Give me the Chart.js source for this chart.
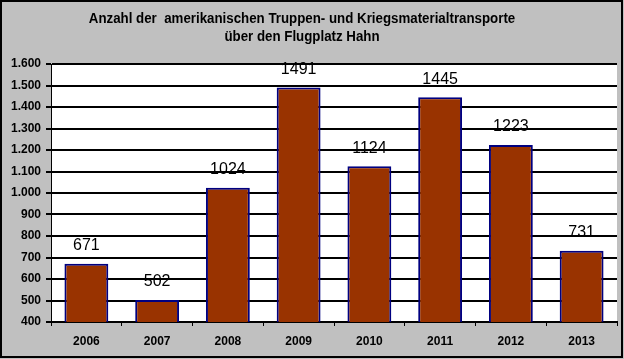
<!DOCTYPE html>
<html>
<head>
<meta charset="utf-8">
<script src="https://cdn.jsdelivr.net/npm/chart.js@4"></script>
<style>
  html, body { margin: 0; padding: 0; background: #c0c0c0; }
  #wrap { width: 624px; height: 359px; }
</style>
</head>
<body>
<div id="wrap"><canvas id="myChart" width="624" height="359"></canvas></div>
<script>
'use strict'

// data
const years = ['2006', '2007', '2008', '2009', '2010', '2011', '2012', '2013'];
const transports = [671, 502, 1024, 1491, 1124, 1445, 1223, 731];
const titleLines = ['Anzahl der  amerikanischen Truppen- und Kriegsmaterialtransporte', 'über den Flugplatz Hahn'];

// grey frame + title
const framePlugin = {
  id: 'frame',
  beforeDraw(chart) {
    const c = chart.ctx;
    c.save();
    c.fillStyle = '#c0c0c0';
    c.fillRect(0, 0, chart.width, chart.height);
    const a = chart.chartArea;
    c.fillStyle = '#ffffff';
    c.fillRect(a.left, a.top, a.right - a.left, a.bottom - a.top);
    c.restore();
  },
  afterDraw(chart) {
    const c = chart.ctx;
    c.save();
    c.strokeStyle = '#000';
    c.lineWidth = 2;
    c.strokeRect(1, 1, chart.width - 3, chart.height - 3);
    c.fillStyle = '#000';
    c.font = 'bold 14px "Liberation Sans", Arial, sans-serif';
    c.textAlign = 'center';
    c.textBaseline = 'middle';
    // slightly narrow title like the original
    c.translate(302, 0);
    c.scale(0.95, 1);
    c.fillText(titleLines[0], 0, 19);
    c.fillText(titleLines[1], 0, 37);
    c.restore();
  }
};

// numbers above the bars
const valuePlugin = {
  id: 'values',
  afterDatasetsDraw(chart) {
    const c = chart.ctx;
    const meta = chart.getDatasetMeta(0);
    c.save();
    c.fillStyle = '#000';
    c.font = '16px "Liberation Sans", Arial, sans-serif';
    c.textAlign = 'center';
    c.textBaseline = 'middle';
    meta.data.forEach((bar, i) => {
      c.fillText(transports[i], bar.x, bar.y - 18);
    });
    c.restore();
  }
};

const data = {
  labels: years,
  datasets: [{
    data: transports,
    backgroundColor: '#993300',
    borderColor: '#000080',
    borderWidth: 2,
    borderSkipped: false,
    barPercentage: 0.62,
    categoryPercentage: 1
  }]
};

const tickFont = { family: '"Liberation Sans", Arial, sans-serif', size: 12, weight: 'bold' };

const config = {
  type: 'bar',
  data: data,
  options: {
    responsive: false,
    animation: false,
    layout: { padding: { left: 0, right: 7, top: 64, bottom: 0 } },
    plugins: { legend: { display: false }, tooltip: { enabled: false } },
    scales: {
      x: {
        offset: true,
        afterFit(s) { s.height = 37; },
        grid: { offset: true, drawOnChartArea: false, drawTicks: true, tickLength: 4, color: '#000', lineWidth: 1 },
        border: { color: '#000', width: 2 },
        ticks: { color: '#000', font: tickFont, padding: 8 }
      },
      y: {
        min: 400,
        max: 1600,
        afterFit(s) { s.width = 51; },
        grid: { color: '#000', lineWidth: 2, tickLength: 5 },
        border: { color: '#000', width: 1 },
        ticks: {
          stepSize: 100,
          color: '#000',
          font: tickFont,
          padding: 5,
          callback: v => v.toLocaleString('de-DE')
        }
      }
    }
  },
  plugins: [framePlugin, valuePlugin]
};

const myChart = new Chart(document.getElementById('myChart'), config);
</script>
</body>
</html>
